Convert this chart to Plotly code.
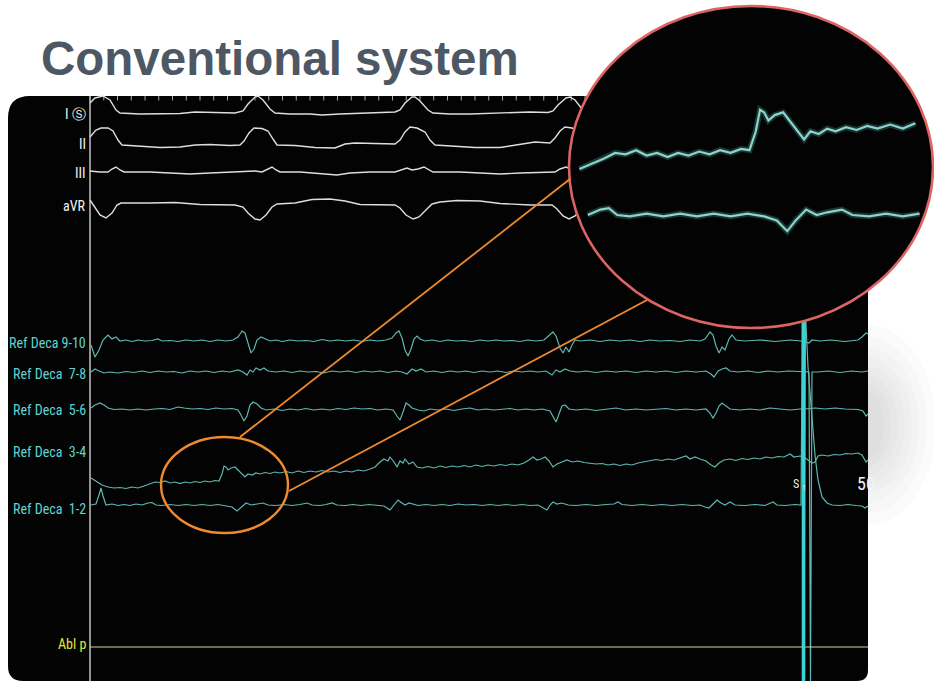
import plotly.graph_objects as go

SAMPLE_MS = 4  # one sample = 4 ms of sweep

# ---------------- data: (sample index, amplitude) ; amplitude > 0 is upward ----------------
ECG_I = [(0,10),(5,15),(13,17),(20,13),(26,3),(30,0),(50,-1),(70,-1),(90,-0.5),(105,1),(125,0.5),(145,0),
         (153,2),(158,9),(165,16),(168,17),(173,13),(180,4),(185,0),(200,-1),(220,-1),(232,-2),(250,-1),(270,0),
         (290,1),(305,1),(310,3),(315,10),(322,16),(325,16),(330,12),(338,3),(343,0),(360,-1),(380,-1),(400,-0.5),
         (420,0.5),(440,1),(458,0.5),(463,2),(468,8),(476,15),(480,16),(485,13),(492,4),(497,0),(530,-1),(570,0),
         (610,1),(620,2),(626,9),(633,16),(637,15),(643,9),(650,1),(670,0),(710,0),(778,0)]
ECG_II = [(0,8),(6,15),(11,17),(18,17),(23,14),(28,5),(32,0),(50,-1),(70,-2.5),(90,-2),(105,0),(120,0.5),(140,-0.5),
          (150,0),(154,4),(159,12),(164,17),(172,16.5),(178,14),(183,6),(187,0),(205,-0.5),(225,-2.5),(245,-3),
          (255,1),(265,2),(285,1.5),(305,1),(310,5),(315,13),(320,18),(327,17),(335,13),(340,5),(345,0),(365,-1),
          (385,-2.5),(410,-2.5),(430,0.5),(445,3),(460,2),(465,7),(470,14),(475,18),(482,17),(490,12),(496,5),
          (500,0),(550,-2),(600,2),(620,2),(625,10),(630,17),(638,16),(646,11),(652,1),(670,-1),(778,0)]
ECG_III = [(0,1),(10,0),(18,0),(22,3),(26,5),(30,2),(34,0),(60,0),(80,-1),(100,-2),(120,-1),(150,0),(165,1),
           (172,0),(178,3),(182,5),(186,2),(190,0),(210,0),(230,-2),(247,-3),(260,-1),(280,0),(305,0),(312,2),
           (317,4),(322,2),(328,3),(334,5),(339,2),(343,0),(370,0),(390,-1),(410,-2),(430,-1),(455,0),(465,0),
           (470,3),(476,5),(481,3),(488,5),(494,1),(500,0),(778,0)]
ECG_AVR = [(0,3),(5,-5),(10,-12),(16,-15),(22,-10),(27,-2),(31,0),(60,0),(85,0.5),(110,-1.5),(145,-2),(153,-4),
           (158,-10),(165,-16),(170,-17),(176,-12),(182,-4),(187,-1),(205,0),(222,3.5),(240,4),(255,2),(270,-1.5),
           (305,-2),(310,-5),(316,-12),(323,-16),(329,-14),(336,-7),(342,-1),(350,1),(367,2.5),(390,2),(410,-0.5),
           (440,-2),(462,-2),(467,-6),(473,-13),(479,-16),(485,-13),(492,-5),(498,0),(560,2),(610,-2),(620,-6),
           (632,-16),(645,-7),(655,0),(778,0)]

DECA_9_10 = [(1,-4),(5,-16),(9,-9),(13,1),(18,6),(22,2),(26,4),(30,0),(36,1),(42,-0.5),(48,1),(55,0),(62,0.5),
             (68,2),(72,0),(80,0.5),(88,-0.5),(96,1),(104,0),(112,1),(120,-0.5),(128,1),(136,0),(143,1),(148,4),
             (152,10),(155,8),(158,-3),(161,-12),(164,-8),(167,1),(171,4),(175,2),(180,0),(186,1),(192,-0.5),
             (200,1),(208,0),(216,0.5),(224,-0.5),(232,1.5),(240,0),(248,1),(256,0),(264,1),(272,-0.5),(280,1),
             (288,0),(296,1),(302,3),(306,8),(309,10),(312,3),(315,-9),(318,-15),(321,-8),(324,2),(327,5),(330,2),
             (335,0),(342,1),(350,-0.5),(358,1),(366,0),(374,0.5),(382,-0.5),(390,1),(398,0),(406,1),(414,0),
             (422,0.5),(430,-0.5),(438,1),(446,0),(454,1),(459,5),(463,9),(466,5),(470,-7),(473,-12),(476,-6),
             (479,-11),(482,-4),(485,1),(490,0),(500,1),(510,-0.5),(520,1),(530,0),(540,1),(550,-0.5),(560,1),
             (570,0),(580,0.5),(590,-0.5),(600,1),(610,0),(615,2),(620,9),(623,6),(626,-5),(629,-12),(632,-6),
             (635,-9),(639,2),(642,6),(646,1),(655,0),(670,1),(685,-0.5),(700,1),(711,0),(719,-2),(722,1),(730,0),
             (740,1),(755,-0.5),(768,1),(772,4),(776,8),(778,7)]
DECA_7_8 = [(1,0),(5,3),(9,1),(14,-1),(20,0),(28,-1),(36,0.5),(44,-0.5),(52,1),(60,-0.5),(68,1),(76,0),(84,0.5),
            (92,-1),(100,1),(108,0),(116,1),(124,-0.5),(132,1),(140,0),(148,2),(153,0),(157,-3),(160,2),(163,0),
            (166,4),(170,2),(174,4),(178,1),(186,0),(194,1),(202,-0.5),(210,1),(218,0),(226,0.5),(234,-1),(242,1),
            (250,0),(258,1),(266,-0.5),(274,1),(282,0),(290,1),(298,-0.5),(306,1),(312,0),(317,-2),(322,3),(326,1),
            (331,3),(336,0),(344,1),(352,-0.5),(360,1),(368,0),(376,1),(384,-0.5),(392,1),(400,0),(408,1),
            (416,-0.5),(424,1),(432,0),(440,1),(448,0),(456,1),(462,-3),(466,2),(470,0),(475,3),(480,1),(488,0),
            (496,1),(506,-0.5),(516,1),(526,0),(536,1),(546,-0.5),(556,1),(566,0),(576,1),(586,-0.5),(596,1),
            (606,0),(616,1),(621,-2),(624,-5),(628,1),(632,3),(636,4),(640,1),(648,0),(658,1),(668,-0.5),(678,1),
            (688,0),(698,1),(710,0),(719,0),(720.5,-309),(722,0),(728,0),(738,1),(750,-0.5),(762,1),(772,0),(778,1)]
DECA_5_6 = [(1,1),(5,4),(10,6),(14,4),(18,1),(24,-0.5),(32,0),(40,-1),(48,0),(56,-1),(64,0),(72,0.5),(80,-0.5),
            (88,2),(94,1),(102,0),(110,0.5),(118,-0.5),(126,1),(134,0),(142,0.5),(148,-1),(151,-6),(154,-12),
            (157,-7),(160,4),(163,7),(167,5),(171,1),(176,-1),(184,0),(192,-1.5),(200,0),(208,-1),(216,0.5),
            (224,-1),(232,0),(240,-1),(248,0.5),(256,-0.5),(264,1),(272,0),(280,0.5),(288,-1),(296,0),(303,-1),
            (307,-7),(310,-11),(313,-3),(316,6),(319,4),(322,1),(328,-1),(334,-2),(340,0),(348,-1),(356,0),
            (364,-1.5),(372,0),(380,1),(388,-1),(396,0),(404,-1),(412,0),(420,0.5),(428,-1),(436,0),(444,-1),
            (452,0),(460,-2),(463,-8),(466,-13),(469,-5),(472,3),(475,4),(479,0),(486,-1),(496,0),(506,-1.5),
            (516,0),(526,1),(536,-1),(546,0),(556,-1),(566,0),(576,0.5),(586,-1),(596,0),(606,-1),(616,0),
            (620,-4),(623,-9),(626,-4),(629,3),(632,6),(636,3),(640,0),(650,-1),(660,0),(670,-1),(680,1),(690,0),
            (700,-1),(710,0),(715,0),(725,1),(735,0),(745,1),(755,0),(768,-0.5),(773,-2),(776,-7),(778,-5)]
DECA_3_4 = [(1,-8),(6,-11),(12,-15),(18,-17),(24,-18),(30,-17.5),(36,-18.5),(42,-17),(48,-18),(54,-16),(60,-14),
            (65,-12),(70,-12.5),(75,-11),(80,-13),(85,-12),(90,-13.5),(95,-12),(100,-13),(105,-11.5),(110,-12.5),
            (115,-11),(120,-12),(125,-10.5),(129,-11),(132,-4),(134,4),(136,3),(138,0),(141,2),(145,3),(148,0),
            (152,-4),(155,-7),(158,-4),(162,-5),(166,-3),(170,-4),(175,-2.5),(180,-3.5),(185,-2),(190,-3),
            (196,-1.5),(202,-3),(208,-1),(214,-2.5),(220,-1),(226,-2),(232,-0.5),(238,-2),(244,-1),(250,-2.5),
            (256,-1),(262,-2),(268,0),(274,-1),(280,1),(285,3),(290,8),(294,11),(298,9),(300,13),(304,8),(307,3),
            (310,9),(313,7),(315,11),(319,6),(323,8),(327,3),(332,2),(338,3.5),(344,2),(350,4),(356,2.5),(362,4),
            (368,3),(374,4.5),(380,3),(386,5),(392,3.5),(398,5),(404,4),(410,5.5),(416,4.5),(422,6),(428,5),
            (434,7),(439,10),(443,13),(447,10),(451,11),(455,13),(459,9),(463,3),(467,6),(472,8),(477,10),(482,8),
            (488,9),(494,7.5),(500,7),(506,6),(512,6.5),(518,5),(524,6),(530,4.5),(536,6),(542,5),(548,7),(554,8),
            (560,9),(566,10.5),(572,9.5),(578,11),(584,10),(590,12),(596,14),(600,11),(605,13),(610,11),(616,9),
            (621,5),(625,3),(629,7),(634,10),(640,11),(646,9.5),(652,11.5),(658,10.5),(664,12),(670,11),(676,13),
            (682,12),(688,13.5),(694,13),(700,16),(704,13),(710,14),(714,13),(722,7),(725,8),(728,14),(732,15),
            (738,14),(744,15.5),(750,15),(756,16.5),(762,16),(768,17),(772,15),(776,8),(778,10)]
DECA_1_2 = [(1,0),(6,1),(9,10),(11,17),(13,9),(16,0),(22,1),(28,-0.5),(34,0.5),(40,-0.5),(46,1),(52,0),(58,2),
            (62,2.5),(66,0),(72,-0.5),(80,0.5),(88,-0.5),(96,0.5),(104,-0.5),(112,0.5),(120,-0.5),(128,0.5),
            (136,-0.5),(142,-2),(147,-6),(151,-2),(156,2),(161,0),(166,1),(173,2),(178,0),(186,-0.5),(194,0.5),
            (202,-0.5),(210,0.5),(217,2),(222,0),(230,-0.5),(236,0.5),(242,2),(247,0),(255,-0.5),(263,0.5),
            (271,-0.5),(279,0.5),(287,-0.5),(294,-1),(300,-5),(304,0),(308,5),(312,2),(315,0),(319,2),(323,1),
            (328,-0.5),(336,0.5),(344,-0.5),(352,0.5),(360,-0.5),(368,1),(376,0),(384,0.5),(392,-0.5),(400,0.5),
            (408,-0.5),(416,0.5),(424,-0.5),(432,0.5),(440,-0.5),(448,0),(453,-3),(457,-5),(460,0),(463,3),(467,1),
            (472,2),(478,0),(486,-0.5),(496,0.5),(506,-0.5),(516,0.5),(524,1),(528,3),(532,0.5),(542,-0.5),
            (552,0.5),(562,-0.5),(572,0.5),(582,-0.5),(592,0.5),(602,-0.5),(610,0),(615,-2),(619,-3),(623,1),
            (627,5),(631,2),(635,0),(640,3),(645,0),(655,-0.5),(665,0.5),(675,-0.5),(683,3),(687,0),(695,-0.5),
            (705,0.5),(711,0),(712.5,205),(714,-176),(715.5,205),(716,180),(718,138),(720,113),(722,95),(725,50),
            (728,25),(732,8),(737,2),(742,0),(750,-0.5),(758,0.5),(766,-0.5),(772,-1),(775,-3),(778,-1)]
ABL_P = [(0,0),(778,0)]
STIM = [(713.5,185),(713.5,-176)]          # pacing stimulus artefact on Ref Deca 1-2
TICK_MS = list(range(0, 2900, 55))          # sweep time marks

CHANNELS = ["I", "II", "III", "aVR", "9-10", "7-8", "5-6", "3-4", "1-2", "Abl"]
DATA = {"I": ECG_I, "II": ECG_II, "III": ECG_III, "aVR": ECG_AVR, "9-10": DECA_9_10, "7-8": DECA_7_8,
        "5-6": DECA_5_6, "3-4": DECA_3_4, "1-2": DECA_1_2, "Abl": ABL_P}
LABELS = {"I": "I Ⓢ", "II": "II", "III": "III", "aVR": "aVR", "9-10": "Ref Deca 9-10", "7-8": "Ref Deca  7-8",
          "5-6": "Ref Deca  5-6", "3-4": "Ref Deca  3-4", "1-2": "Ref Deca  1-2", "Abl": "Abl p"}

# ---------------- layout (positions / styles) ----------------
W, H = 934, 683
ROW_Y = {"I": 113, "II": 145, "III": 172, "aVR": 203, "9-10": 341, "7-8": 372, "5-6": 409, "3-4": 470,
         "1-2": 505, "Abl": 647}
LABEL_Y = {"I": 114, "II": 144, "III": 173, "aVR": 206, "9-10": 343, "7-8": 374, "5-6": 410, "3-4": 452,
           "1-2": 509, "Abl": 644}
ECG_COL = "#dedede"
TEAL = "#5fb7b1"
TEAL_LBL = "#5fd5d3"
YEL_LBL = "#e4e43c"
ABL_COL = "#d8d49c"
ORANGE = "#ef8a2f"
CORAL = "#dc6462"
LBL_FONT = "Roboto Condensed, Liberation Sans Narrow, Liberation Sans, Arial, sans-serif"


def X(px):  # screen px -> sweep ms
    return (px - 90) * SAMPLE_MS


def col(ch):
    if ch in ("I", "II", "III", "aVR"):
        return ECG_COL
    if ch == "Abl":
        return ABL_COL
    return TEAL


fig = go.Figure()

# sweep time marks at top of panel
tx, ty = [], []
for t in TICK_MS:
    tx += [t, t, None]
    ty += [96, 100.5, None]
fig.add_trace(go.Scatter(x=tx, y=ty, mode="lines", line=dict(color="#a9a9a9", width=1),
                         hoverinfo="skip", showlegend=False))

for ch in CHANNELS:
    pts = DATA[ch]
    xs = [s * SAMPLE_MS for s, a in pts]
    ys = [ROW_Y[ch] - a for s, a in pts]
    fig.add_trace(go.Scatter(x=xs, y=ys, mode="lines",
                             line=dict(color=col(ch), width=1.4 if ch in ("I", "II", "III", "aVR") else 1.2),
                             hoverinfo="skip", showlegend=False))

fig.add_trace(go.Scatter(x=[s * SAMPLE_MS for s, a in STIM], y=[ROW_Y["1-2"] - a for s, a in STIM],
                         mode="lines", line=dict(color="#3fd2d2", width=3.6), hoverinfo="skip", showlegend=False))

# ---------------- magnified view (same data, second axes) ----------------
MAG_S = 134       # sample shown at magnifier px MAG_PX
MAG_PX = 760
MAG_FX = 2.1      # px per sample
MAG_Y0 = 505      # original y shown at magnifier py MAG_PY
MAG_PY = 215
MAG_KY = 2.7
DOM_X = (565, 934)
DOM_Y = (3, 331)
ELL = (569, 933, 6, 328)


def MX(px):
    return (MAG_S + (px - MAG_PX) / MAG_FX) * SAMPLE_MS


def MY(py):
    return MAG_Y0 + (py - MAG_PY) / MAG_KY


fig.add_shape(type="circle", xref="x2", yref="y2", x0=MX(ELL[0]), x1=MX(ELL[1]), y0=MY(ELL[2]), y1=MY(ELL[3]),
              fillcolor="#030303", line=dict(color=CORAL, width=2.6), layer="below")

for ch in ("3-4", "1-2"):
    pts = [(s, a) for s, a in DATA[ch] if 48 <= s <= 211]
    xs = [s * SAMPLE_MS for s, a in pts]
    ys = [ROW_Y[ch] - a for s, a in pts]
    fig.add_trace(go.Scatter(x=xs, y=ys, xaxis="x2", yaxis="y2", mode="lines",
                             line=dict(color="rgba(70,170,160,0.30)", width=6), hoverinfo="skip",
                             showlegend=False))
    fig.add_trace(go.Scatter(x=xs, y=ys, xaxis="x2", yaxis="y2", mode="lines",
                             line=dict(color="#8fd2c9", width=2.2), hoverinfo="skip", showlegend=False))

# ---------------- shapes ----------------
shapes = []
# soft grey shadow to the right of the panel
for rx, ry in [(80, 115), (70, 101), (61, 89), (53, 78), (46, 68), (39, 59), (32, 50), (25, 42), (18, 34)]:
    shapes.append(dict(type="circle", xref="x", yref="y", x0=X(866 - rx), x1=X(866 + rx), y0=425 - ry,
                       y1=425 + ry, fillcolor="rgba(0,0,0,0.015)", line=dict(width=0), layer="below"))
panel = (f"M {X(30)},96 L {X(868)},96 L {X(868)},670 Q {X(868)},681 {X(857)},681 "
         f"L {X(23)},681 Q {X(8)},681 {X(8)},666 L {X(8)},118 Q {X(8)},96 {X(30)},96 Z")
shapes.append(dict(type="path", xref="x", yref="y", path=panel, fillcolor="#030303",
                   line=dict(width=0), layer="below"))
shapes.append(dict(type="line", xref="x", yref="y", x0=X(90), x1=X(90), y0=96, y1=681,
                   line=dict(color="#c4c4c4", width=1.5), layer="below"))
# orange callout
shapes.append(dict(type="circle", xref="x", yref="y", x0=X(161), x1=X(288), y0=437, y1=533,
                   line=dict(color=ORANGE, width=2.4), layer="above"))
shapes.append(dict(type="line", xref="x", yref="y", x0=X(240), y0=437, x1=X(570), y1=179,
                   line=dict(color=ORANGE, width=1.8), layer="above"))
shapes.append(dict(type="line", xref="x", yref="y", x0=X(289), y0=491, x1=X(647), y1=300,
                   line=dict(color=ORANGE, width=1.8), layer="above"))
fig.update_layout(shapes=shapes)

# ---------------- text ----------------
ann = [dict(x=X(39), y=58, xref="x", yref="y", text="Conventional system", showarrow=False,
            xanchor="left", yanchor="middle",
            font=dict(family="Liberation Sans, Arial, sans-serif", size=47.5, color="#4e5864", weight="bold"))]
for ch in CHANNELS:
    c = "#f2f2f2" if ch in ("I", "II", "III", "aVR") else (YEL_LBL if ch == "Abl" else TEAL_LBL)
    ann.append(dict(x=X(88), y=LABEL_Y[ch], xref="x", yref="y", text=LABELS[ch], showarrow=False,
                    xanchor="right", yanchor="middle", font=dict(family=LBL_FONT, size=14, color=c)))
ann.append(dict(x=X(800.5), y=484, xref="x", yref="y", text="S", showarrow=False,
                xanchor="right", yanchor="middle", font=dict(family=LBL_FONT, size=12, color="#e6e6e6")))
ann.append(dict(x=X(799.5), y=487, xref="x", yref="y", text="1", showarrow=False,
                xanchor="left", yanchor="middle", font=dict(family=LBL_FONT, size=8, color="#e6e6e6")))
ann.append(dict(x=X(855), y=483, xref="x", yref="y", text="50", showarrow=False,
                xanchor="left", yanchor="middle", font=dict(family=LBL_FONT, size=18, color="#f4f4f4")))

fig.update_layout(
    annotations=ann,
    width=W, height=H, margin=dict(l=0, r=0, t=0, b=0),
    paper_bgcolor="white", plot_bgcolor="rgba(0,0,0,0)",
    xaxis=dict(range=[X(0), X(W)], visible=False, fixedrange=True, domain=[0, 1]),
    yaxis=dict(range=[H, 0], visible=False, fixedrange=True, domain=[0, 1]),
    xaxis2=dict(range=[MX(DOM_X[0]), MX(DOM_X[1])], domain=[DOM_X[0] / W, DOM_X[1] / W], anchor="y2",
                visible=False, fixedrange=True),
    yaxis2=dict(range=[MY(DOM_Y[1]), MY(DOM_Y[0])], domain=[1 - DOM_Y[1] / H, 1 - DOM_Y[0] / H], anchor="x2",
                visible=False, fixedrange=True),
    showlegend=False,
)

fig.write_html("out.html", config={"displayModeBar": False},
               post_script="document.body.style.margin='0';document.body.style.overflow='hidden';")
